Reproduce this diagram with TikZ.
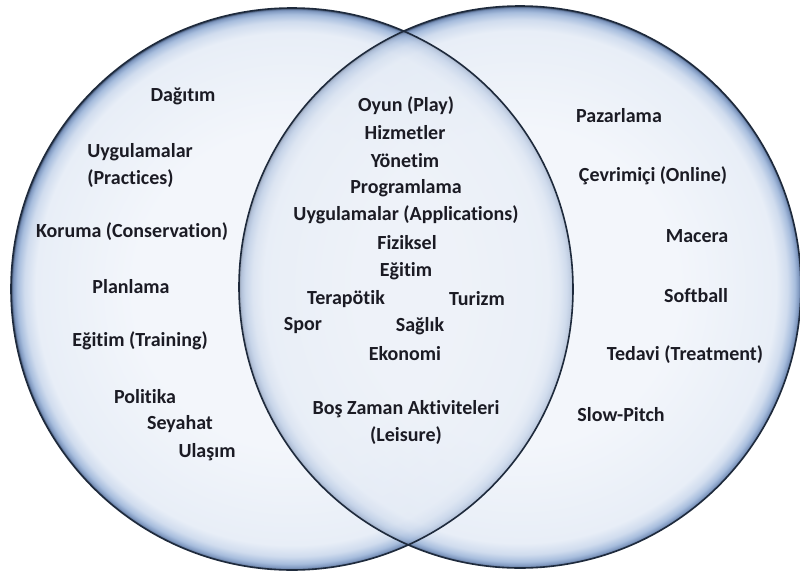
\documentclass[tikz,border=0pt]{standalone}
\usepackage{fontspec}
\setmainfont{Carlito}[Ligatures={NoCommon}]
\definecolor{txt}{HTML}{1B1B24}
\definecolor{rim}{HTML}{1E2A3C}
\definecolor{bc0}{HTML}{F3F6FB}
\definecolor{bc1}{HTML}{E8EEF7}
\definecolor{bc2}{HTML}{D0DCEE}
\definecolor{bc3}{HTML}{A7BDDD}
\definecolor{bc4}{HTML}{7D96BE}
\definecolor{bc5}{HTML}{34445F}
\definecolor{lens}{HTML}{C9D6EA}
\pgfdeclareradialshading{bubble}{\pgfpoint{0bp}{0bp}}{color(0bp)=(bc0); color(14bp)=(bc0); color(22.8bp)=(bc1); color(23.8bp)=(bc2); color(24.45bp)=(bc3); color(24.82bp)=(bc4); color(25bp)=(bc5); color(50bp)=(bc5)}
\tikzset{
  lbl/.style={text=txt, font=\fontsize{20}{27}\selectfont\bfseries, inner sep=0pt},
  rimline/.style={draw=rim, line width=1.6pt}
}
\begin{document}
\begin{tikzpicture}[x=1pt,y=-1pt]
\useasboundingbox (0,0) rectangle (800,576);
\fill[white] (0,0) rectangle (800,576);
\coordinate (L) at (292,289);
\coordinate (R) at (520,287);
% right circle first, then left, then the right one again inside the left one, half see-through
\shade[shading=bubble] (R) circle (281);
\shade[shading=bubble] (L) circle (281);
\begin{scope}
  \clip (L) circle (281);
  \fill[lens, opacity=0.2] (R) circle (281);
  \shade[shading=bubble, opacity=0.5] (R) circle (281);
\end{scope}
\draw[rimline] (L) circle (281);
\draw[rimline] (R) circle (281);
% left texts
\node[lbl] (l1) at (183,96) {Dağıtım};
\node[lbl, align=left] (l2) at (140,165) {Uygulamalar\\(Practices)};
\node[lbl] (l3) at (132,232) {Koruma (Conservation)};
\node[lbl] (l4) at (131,287) {Planlama};
\node[lbl] (l5) at (140,341) {Eğitim (Training)};
\node[lbl] (l6) at (145,397) {Politika};
\node[lbl] (l7) at (180,424) {Seyahat};
\node[lbl] (l8) at (207,452) {Ulaşım};
% middle texts
\node[lbl] (m1) at (406,106) {Oyun (Play)};
\node[lbl] (m2) at (405,133) {Hizmetler};
\node[lbl] (m3) at (405,161) {Yönetim};
\node[lbl] (m4) at (406,188) {Programlama};
\node[lbl] (m5) at (406,215) {Uygulamalar (Applications)};
\node[lbl] (m6) at (407,243) {Fiziksel};
\node[lbl] (m7) at (406,271) {Eğitim};
\node[lbl] (m8) at (346,299) {Terapötik};
\node[lbl] (m9) at (477,299) {Turizm};
\node[lbl] (m10) at (303,326) {Spor};
\node[lbl] (m11) at (420,326) {Sağlık};
\node[lbl] (m12) at (405,354) {Ekonomi};
\node[lbl, align=center] (m13) at (406,422) {Boş Zaman Aktiviteleri\\(Leisure)};
% right texts
\node[lbl] (r1) at (619,116) {Pazarlama};
\node[lbl] (r2) at (653,176) {Çevrimiçi (Online)};
\node[lbl] (r3) at (697,236) {Macera};
\node[lbl] (r4) at (696,296) {Softball};
\node[lbl] (r5) at (685,355) {Tedavi (Treatment)};
\node[lbl] (r6) at (621,415) {Slow-Pitch};
\end{tikzpicture}
\end{document}
